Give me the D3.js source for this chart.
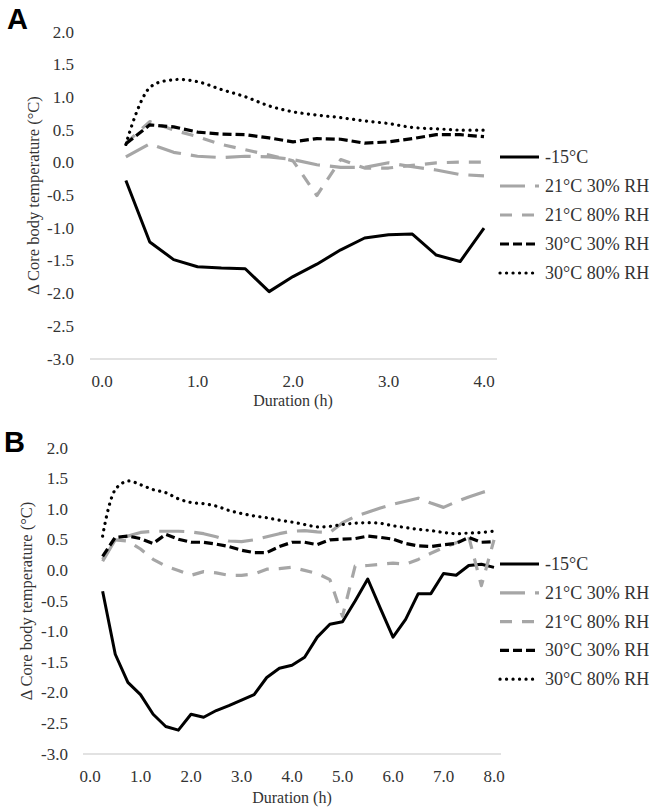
<!DOCTYPE html>
<html><head><meta charset="utf-8">
<script src="https://cdn.jsdelivr.net/npm/d3@7"></script>
<style>
body{margin:0;background:#fff}
svg{display:block}
</style>
</head><body>
<svg id="chart" width="649" height="809"></svg>
<script>
// ---------- data ----------
const seriesNames = ["-15°C", "21°C 30% RH", "21°C 80% RH", "30°C 30% RH", "30°C 80% RH"];
const yTickValues = [2.0, 1.5, 1.0, 0.5, 0.0, -0.5, -1.0, -1.5, -2.0, -2.5, -3.0];
const xTicksA = [0, 1, 2, 3, 4];
const xTicksB = [0, 1, 2, 3, 4, 5, 6, 7, 8];

const timeA = [0.25, 0.5, 0.75, 1.0, 1.25, 1.5, 1.75, 2.0, 2.25, 2.5, 2.75, 3.0, 3.25, 3.5, 3.75, 4.0];
const coldA    = [-0.27, -1.21, -1.48, -1.59, -1.61, -1.62, -1.97, -1.74, -1.55, -1.33, -1.15, -1.10, -1.09, -1.41, -1.51, -1.00];
const t21rh30A = [0.09, 0.29, 0.16, 0.10, 0.08, 0.10, 0.09, 0.05, -0.03, -0.07, -0.07, 0.00, -0.06, -0.11, -0.18, -0.20];
const t21rh80A = [0.30, 0.63, 0.50, 0.40, 0.28, 0.20, 0.12, 0.03, -0.50, 0.05, -0.08, -0.08, -0.04, 0.00, 0.01, 0.01];
const t30rh30A = [0.29, 0.58, 0.55, 0.47, 0.44, 0.43, 0.38, 0.32, 0.37, 0.36, 0.30, 0.32, 0.37, 0.43, 0.43, 0.40];
const t30rh80A = [0.28, 1.15, 1.27, 1.24, 1.12, 1.01, 0.87, 0.78, 0.73, 0.69, 0.64, 0.60, 0.54, 0.52, 0.50, 0.50];

const timeB = [0.25, 0.5, 0.75, 1.0, 1.25, 1.5, 1.75, 2.0, 2.25, 2.5, 2.75, 3.0, 3.25, 3.5, 3.75, 4.0,
               4.25, 4.5, 4.75, 5.0, 5.25, 5.5, 5.75, 6.0, 6.25, 6.5, 6.75, 7.0, 7.25, 7.5, 7.75, 8.0];
const coldB    = [-0.34, -1.37, -1.83, -2.03, -2.35, -2.55, -2.61, -2.35, -2.40, -2.29, -2.21, -2.12, -2.03, -1.75, -1.60, -1.55,
                  -1.42, -1.09, -0.88, -0.84, -0.50, -0.14, -0.62, -1.09, -0.80, -0.38, -0.38, -0.05, -0.08, 0.08, 0.10, 0.05];
const t21rh30B = [0.15, 0.50, 0.56, 0.62, 0.64, 0.64, 0.64, 0.63, 0.60, 0.55, 0.48, 0.47, 0.50, 0.55, 0.60, 0.64,
                  0.65, 0.63, 0.62, 0.78, 0.88, 0.95, 1.02, 1.08, 1.13, 1.18, 1.10, 1.03, 1.12, 1.20, 1.27, 1.33];
const t21rh80B = [0.18, 0.50, 0.48, 0.35, 0.18, 0.07, 0.00, -0.08, -0.02, -0.04, -0.08, -0.08, -0.06, 0.02, 0.03, 0.05,
                  0.00, -0.05, -0.15, -0.75, 0.07, 0.08, 0.10, 0.12, 0.10, 0.18, 0.28, 0.37, 0.45, 0.55, -0.25, 0.50];
const t30rh30B = [0.23, 0.54, 0.56, 0.52, 0.44, 0.59, 0.51, 0.46, 0.46, 0.43, 0.39, 0.33, 0.29, 0.29, 0.39, 0.46,
                  0.46, 0.42, 0.50, 0.51, 0.52, 0.56, 0.54, 0.51, 0.44, 0.40, 0.39, 0.42, 0.44, 0.54, 0.46, 0.47];
const t30rh80B = [0.56, 1.32, 1.46, 1.40, 1.32, 1.27, 1.17, 1.11, 1.09, 1.05, 0.98, 0.93, 0.89, 0.86, 0.82, 0.79,
                  0.75, 0.71, 0.72, 0.75, 0.77, 0.78, 0.77, 0.73, 0.70, 0.67, 0.65, 0.62, 0.60, 0.61, 0.62, 0.64];

// ---------- styles ----------
const SERIF = "'Liberation Serif', 'Times New Roman', Times, 'DejaVu Serif', serif";
const seriesStyles = [
  {color: "#000000", dash: null,      width: 3,   cap: "butt",  smooth: false},
  {color: "#a6a6a6", dash: "25,10",   width: 3.2, cap: "butt",  smooth: false},
  {color: "#a6a6a6", dash: "12,10",   width: 3.2, cap: "butt",  smooth: false},
  {color: "#000000", dash: "9,4",     width: 3.2, cap: "butt",  smooth: false},
  {color: "#000000", dash: "0.1,6.4", width: 3.2, cap: "round", smooth: true}
];

const panels = [
  {label: "A", labelX: 7, labelY: 29, time: timeA, series: [coldA, t21rh30A, t21rh80A, t30rh30A, t30rh80A],
   xDomain: [0, 4], xRange: [102, 484], yRange: [359, 32], xTicks: xTicksA,
   axisX: [90, 497], tickLabelX: 74, xTickY: 381, xTitleY: 400, yTitleX: 33,
   legendY0: 157, legendStep: 29},
  {label: "B", labelX: 4, labelY: 452, time: timeB, series: [coldB, t21rh30B, t21rh80B, t30rh30B, t30rh80B],
   xDomain: [0, 8], xRange: [90, 494], yRange: [754, 448], xTicks: xTicksB,
   axisX: [83, 501], tickLabelX: 68, xTickY: 776, xTitleY: 797, yTitleX: 26,
   legendY0: 564, legendStep: 28.8}
];

const svg = d3.select("#chart");

function serifText(sel, size) {
  return sel.attr("font-family", SERIF).style("font-family", SERIF)
    .attr("font-size", size).style("font-size", size + "px").attr("fill", "#333");
}

panels.forEach(p => {
  const g = svg.append("g");
  const x = d3.scaleLinear().domain(p.xDomain).range(p.xRange);
  const y = d3.scaleLinear().domain([-3, 2]).range(p.yRange);

  // panel letter
  g.append("text").attr("x", p.labelX).attr("y", p.labelY)
    .style("font-family", "'Liberation Sans', Arial, sans-serif")
    .style("font-weight", "bold").style("font-size", "29px").style("fill", "#000")
    .text(p.label);

  // horizontal axis line at -3
  g.append("line").attr("x1", p.axisX[0]).attr("x2", p.axisX[1])
    .attr("y1", y(-3)).attr("y2", y(-3))
    .attr("stroke", "#d9d9d9").attr("stroke-width", 1.5);

  // y tick labels
  serifText(g.selectAll(".ytl").data(yTickValues).enter().append("text"), 17)
    .attr("x", p.tickLabelX).attr("y", d => y(d))
    .attr("text-anchor", "end").attr("dominant-baseline", "central")
    .text(d => d3.format(".1f")(d).replace("−", "-"));

  // x tick labels
  serifText(g.selectAll(".xtl").data(p.xTicks).enter().append("text"), 17)
    .attr("x", d => x(d)).attr("y", p.xTickY)
    .attr("text-anchor", "middle").attr("dominant-baseline", "central")
    .text(d => d3.format(".1f")(d));

  // axis titles
  serifText(g.append("text"), 16)
    .attr("x", (p.xRange[0] + p.xRange[1]) / 2).attr("y", p.xTitleY)
    .attr("text-anchor", "middle").attr("dominant-baseline", "central")
    .text("Duration (h)");
  const ymid = (p.yRange[0] + p.yRange[1]) / 2;
  serifText(g.append("text"), 16.5)
    .attr("transform", `translate(${p.yTitleX},${ymid}) rotate(-90)`)
    .attr("text-anchor", "middle").attr("dominant-baseline", "central")
    .text("Δ Core body temperature (°C)");

  // lines
  p.series.forEach((vals, i) => {
    const st = seriesStyles[i];
    const line = d3.line()
      .x((d, j) => x(p.time[j]))
      .y(d => y(d))
      .curve(st.smooth ? d3.curveCatmullRom.alpha(0.5) : d3.curveLinear);
    g.append("path").datum(vals)
      .attr("d", line)
      .attr("fill", "none")
      .attr("stroke", st.color)
      .attr("stroke-width", st.width)
      .attr("stroke-linecap", st.cap)
      .attr("stroke-linejoin", "round")
      .attr("stroke-dasharray", st.dash);
  });

  // legend
  seriesNames.forEach((name, i) => {
    const st = seriesStyles[i];
    const ly = p.legendY0 + i * p.legendStep;
    g.append("line").attr("x1", 500).attr("x2", 539).attr("y1", ly).attr("y2", ly)
      .attr("stroke", st.color).attr("stroke-width", st.width)
      .attr("stroke-linecap", st.cap).attr("stroke-dasharray", st.dash);
    serifText(g.append("text"), 18).attr("x", 545).attr("y", ly)
      .attr("dominant-baseline", "central")
      .text(name);
  });
});
</script>
</body></html>
